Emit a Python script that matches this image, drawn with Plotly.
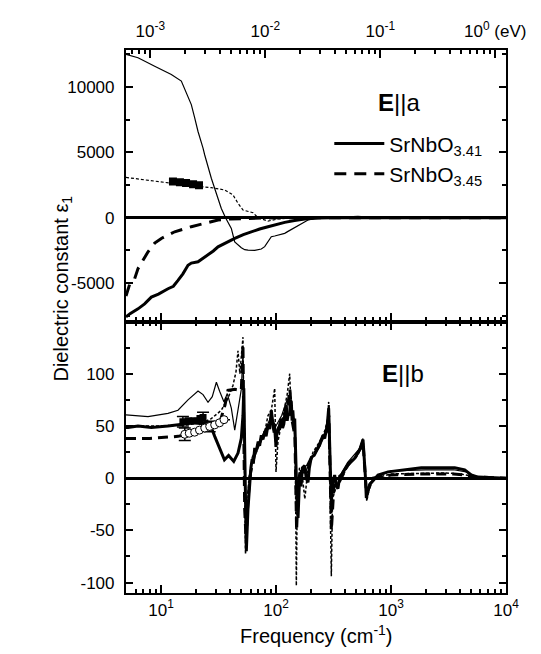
import numpy as np
import plotly.graph_objects as go

# ---------------- data: E||a (top panel) ----------------
freq_a_thin = [4.96, 6.31, 8.81, 10.77, 12.29, 15.02, 17.17, 18.34, 19.63, 20.98,
               23.19, 23.99, 27.38, 31.31, 33.45, 36.4, 40.86, 43.75, 49.93, 53.43,
               57.08, 65.28, 74.5, 79.7, 85.2, 91.0, 97.4, 104.1, 119, 127.2,
               145.4, 155.4, 166, 189.8, 217, 231.8, 283, 346, 423, 516,
               631, 771, 1500, 10000]
eps_a_thin = [12500, 12250, 11600, 11230, 10970, 10460, 9300, 8660, 7640, 6600,
              5330, 4800, 3020, 1480, 700, 0, -820, -1850, -2300, -2450,
              -2490, -2500, -2400, -2220, -1820, -1460, -1400, -1350, -1200, -1050,
              -750, -570, -450, -180, -60, -20, 30, 80, 60, 100,
              40, 0, 0, 0]

freq_a_thick = [4.96, 5.38, 6.31, 7.2, 8.24, 9.5, 11.5, 12.8, 14.05, 15.5,
                17.17, 18.34, 20.98, 23.0, 25.63, 28.5, 31.31, 35.8, 43.75, 52,
                60.99, 72, 85.2, 100, 119, 145, 177.7, 231.8, 300, 10000]
eps_a_thick = [-7600, -7350, -6980, -6600, -6080, -5850, -5440, -5250, -4800, -4300,
               -3650, -3480, -3380, -3150, -2880, -2550, -2230, -1950, -1590, -1300,
               -1080, -870, -690, -520, -360, -220, -100, -20, 0, 0]

freq_a_dash = [4.96, 5.38, 5.9, 6.31, 7.71, 8.81, 10.06, 13.15, 18.34, 25.63,
               31.31, 40, 60, 100, 10000]
eps_a_dash = [-6000, -5000, -4670, -3900, -2615, -1950, -1590, -1080, -690, -360,
              -180, -100, -50, 0, 0]

freq_a_dot = [4.96, 8.24, 16.07, 27.38, 35.81, 42.28, 46.73, 51.64, 57.08, 63.1,
              69.75, 85.2, 104.1, 150, 10000]
eps_a_dot = [3080, 2820, 2510, 2300, 2120, 1740, 1100, 585, 460, 380,
             0, -260, -100, 0, 0]

freq_a_sq = [12.7, 14.6, 16.5, 19.0, 21.4]
eps_a_sq = [2780, 2720, 2660, 2560, 2480]

# ---------------- data: E||b (bottom panel) ----------------
freq_b_thin = [4.96, 7.71, 11.5, 14.05, 17.17, 20.98, 23.19, 25.63, 27.9, 30.3,
               32.4, 35.3, 37.7, 40.86, 43.75, 46.73, 49.9, 51.6, 53.4, 55.2,
               58, 62, 70, 80, 90, 100, 112, 125, 135, 145,
               150, 160, 180, 200, 240, 275, 290, 300, 320, 350,
               420, 530, 570, 605, 650, 720, 1000, 2000, 3500, 4500,
               5500, 10000]
eps_b_thin = [60.5, 59, 62, 65, 75, 83.5, 80, 72.6, 78, 91.8,
              83, 73, 81, 67, 46, 65, 85, 120, 10, -55,
              -10, 20, 32, 46, 58, 50, 60, 75, 65, 55,
              -5, 5, 5, 18, 30, 45, 70, -10, 0, 0,
              15, 28, 38, -15, -5, 0, 7, 8, 8, 6,
              1, 0]

freq_b_thick = [4.96, 5.16, 6.31, 8.24, 11.5, 16.07, 19.63, 23.99, 27.38, 29.31,
                31.31, 33.45, 35.6, 38.7, 42.9, 46.73, 49.9, 51.6, 52.5, 53.4,
                54.3, 55.2, 57, 59.1, 60.5, 62, 63.5, 65.3, 67, 70,
                72, 74.5, 77, 80, 82, 85.2, 88, 91, 94, 97.4,
                100, 102, 104.1, 108, 111.2, 114, 117, 120, 122.9, 125,
                128, 131.5, 133, 135.9, 138, 140, 143, 145.4, 147.5, 150.2,
                152, 155.4, 158, 160.7, 165, 170, 177.7, 183, 189.8, 195,
                202.9, 215, 231.8, 245, 256.3, 265, 273.6, 280, 287, 292,
                299, 302.7, 310, 323.6, 335, 346, 358, 370, 423, 483,
                534, 571, 597.6, 610, 653, 721, 771, 942, 1315, 1834,
                2563, 3581, 4375, 4991, 5715, 7000, 10000]
eps_b_thick = [48.5, 48.5, 50, 48.5, 50, 51.5, 53, 51.5, 48.5, 40,
               32, 24, 17.5, 21.7, 16, 24, 38, 60, 86, 30,
               -20, -70, -30, 0, 10, 18, 14, 29, 25, 35,
               31, 41, 37, 45, 40, 51, 47, 65, 52, 48,
               30, 45, 43, 52, 57, 48, 52, 62, 70, 55,
               62, 60, 75, 73, 55, 65, 50, 57, 20, 0,
               -20, -38, -5, 3, -8, 10, 12, 0, -4, 10,
               20, 22, 29, 35, 41, 38, 48, 52, 67, 40,
               0, -25, -5, 3, -8, -10, 2, 3, 13, 19,
               27, 37, 3, -19, -6, 0, 3, 6, 8, 10,
               10, 10, 8, 3, 1, 0.5, 0]

freq_b_dash = [4.96, 8, 14.05, 19.63, 25, 29.3, 33, 36, 38.2, 44,
               49.9, 51.6, 52.5, 53.4, 55, 57, 60, 66, 75, 85,
               92, 98, 105, 115, 125, 132, 138, 146, 151, 156,
               165, 180, 200, 240, 275, 288, 298, 303, 320, 350,
               420, 520, 572, 600, 612, 700, 1000, 2000, 3500, 4500,
               5500, 10000]
eps_b_dash = [38, 38, 40, 44, 48, 50, 56, 70, 84, 85,
              84, 128, 40, -30, -60, -20, 5, 25, 38, 48,
              55, 40, 48, 55, 65, 85, 55, 40, -50, -10,
              5, 8, 18, 32, 45, 60, -5, -50, -5, -5,
              12, 25, 33, 0, -15, 0, 3, 4, 4, 3,
              1, 0]

freq_b_dot = [4.96, 10, 17.17, 23.99, 27.38, 33.45, 38.24, 42.3, 44.9, 46.7,
              48.5, 50.5, 51.6, 52.5, 53.4, 54.3, 56, 58, 62, 70,
              80, 85.2, 91, 95, 97.4, 100, 104, 115, 125, 131.5,
              136, 145, 148, 150.2, 153, 160, 170, 178, 190, 210,
              240, 265, 280, 287, 295, 302.7, 310, 330, 370, 430,
              500, 560, 575, 600, 615, 660, 720, 1000, 2000, 3000,
              4000, 5000, 6000, 10000]
eps_b_dot = [50, 50, 51, 54, 57, 65, 76.5, 89, 102, 122,
             100, 120, 135, 60, -20, -73, -40, 0, 15, 30,
             45, 60, 65, 78, 86, 6, 35, 60, 80, 100,
             60, 45, -10, -103, -20, 10, 0, -20, 10, 25,
             35, 45, 55, 73, 0, -94, -20, -10, 0, 13,
             20, 30, 35, 0, -22, -6, 0, 4, 5, 5,
             4, 2, 0.5, 0]

freq_b_sq = [15.5, 17.2, 19.4, 21.8, 23.2]
eps_b_sq = [54, 55, 55, 57, 58]
err_b_sq = [5, 0, 0, 0, 5]

freq_b_circ = [16.1, 17.6, 19.6, 21.6, 24.0, 26.5, 29.3, 32.3, 35.3]
eps_b_circ = [42, 43, 44, 46, 48, 49.5, 51, 53, 56]
err_b_circ = [6, 0, 0, 0, 0, 5, 0, 0, 0]

x_tickvals = [10, 100, 1000, 10000]
x_ticktext = ["10<sup>1</sup>", "10<sup>2</sup>", "10<sup>3</sup>", "10<sup>4</sup>"]
ev_tickvals = [0.001, 0.01, 0.1, 1]
ev_ticktext = ["10<sup>-3</sup>", "10<sup>-2</sup>", "10<sup>-1</sup>", "10<sup>0</sup> (eV)"]
ya_tickvals = [-5000, 0, 5000, 10000]
ya_ticktext = ["-5000", "0", "5000", "10000"]
yb_tickvals = [-100, -50, 0, 50, 100]
yb_ticktext = ["-100", "-50", "0", "50", "100"]

# ---------------- figure ----------------
FONT = "Liberation Sans, Arial, Helvetica, sans-serif"
fig = go.Figure()

def line(x, y, xa, ya, width, dash="solid", name=None, legend=False):
    fig.add_trace(go.Scatter(x=x, y=y, xaxis=xa, yaxis=ya, mode="lines",
                             line=dict(color="black", width=width, dash=dash),
                             name=name, showlegend=legend, hoverinfo="skip"))

# top panel
line(freq_a_thin, eps_a_thin, "x2", "y2", 1.2)
line(freq_a_dot, eps_a_dot, "x2", "y2", 1.2, dash="3px,2px")
line(freq_a_thick, eps_a_thick, "x2", "y2", 3, name="SrNbO<sub>3.41</sub>", legend=True)
line(freq_a_dash, eps_a_dash, "x2", "y2", 3, dash="12px,8px", name="SrNbO<sub>3.45</sub>", legend=True)
fig.add_trace(go.Scatter(x=freq_a_sq, y=eps_a_sq, xaxis="x2", yaxis="y2", mode="markers",
                         marker=dict(symbol="square", size=8, color="black"),
                         showlegend=False, hoverinfo="skip"))

# bottom panel
line(freq_b_thin, eps_b_thin, "x", "y", 1.2)
line(freq_b_dot, eps_b_dot, "x", "y", 1.5, dash="3px,2px")
line(freq_b_dash, eps_b_dash, "x", "y", 3, dash="10px,6px")
line(freq_b_thick, eps_b_thick, "x", "y", 3)
fig.add_trace(go.Scatter(x=freq_b_sq, y=eps_b_sq, xaxis="x", yaxis="y", mode="markers",
                         marker=dict(symbol="square", size=7, color="black"),
                         error_y=dict(type="data", array=err_b_sq, color="black", width=6, thickness=1.5),
                         showlegend=False, hoverinfo="skip"))
fig.add_trace(go.Scatter(x=freq_b_circ, y=eps_b_circ, xaxis="x", yaxis="y", mode="markers",
                         marker=dict(symbol="circle", size=8, color="white",
                                     line=dict(color="black", width=1)),
                         error_y=dict(type="data", array=err_b_circ, color="black", width=6, thickness=1.5),
                         showlegend=False, hoverinfo="skip"))

# invisible trace to realise the eV axis
fig.add_trace(go.Scatter(x=[0.01], y=[0], xaxis="x3", yaxis="y2", mode="markers",
                         marker=dict(opacity=0), showlegend=False, hoverinfo="skip"))

xr = [np.log10(4.96), 4.0]
ev_shift = np.log10(1.23984e-4)
minor_cm = [v * d for d in (1, 10, 100, 1000) for v in range(2, 10)]
minor_ev = [v * d for d in (1e-4, 1e-3, 1e-2, 1e-1, 1) for v in range(2, 10)]

axis_common = dict(showgrid=False, showline=True, linecolor="black", linewidth=2.2,
                   ticks="inside", tickcolor="black", tickwidth=1.6,
                   tickfont=dict(family=FONT, size=17, color="black"))
minor_common = dict(ticks="inside", ticklen=4, tickcolor="black", tickwidth=1.6)

fig.update_layout(
    width=541, height=654,
    margin=dict(l=118, r=43, t=42, b=69),
    paper_bgcolor="white", plot_bgcolor="white",
    font=dict(family=FONT, color="black"),
    xaxis=dict(type="log", range=xr, anchor="y", domain=[0, 1], mirror="ticks",
               tickvals=x_tickvals, ticktext=x_ticktext, ticklen=8,
               minor=dict(tickvals=minor_cm, **minor_common), **axis_common),
    xaxis2=dict(type="log", range=xr, anchor="y2", domain=[0, 1], matches="x",
                showticklabels=False, tickvals=x_tickvals, ticklen=8,
                minor=dict(tickvals=minor_cm, **minor_common), **axis_common),
    xaxis3=dict(type="log", range=[xr[0] + ev_shift, xr[1] + ev_shift], anchor="y2",
                overlaying="x2", side="top", tickvals=ev_tickvals, ticktext=ev_ticktext,
                ticklen=8, ticklabelstandoff=4,
                minor=dict(tickvals=minor_ev, **minor_common), **axis_common),
    yaxis=dict(domain=[0, 0.5], range=[-110, 150], anchor="x", mirror="ticks",
               tickvals=yb_tickvals, ticktext=yb_ticktext, ticklen=7,
               zeroline=True, zerolinecolor="black", zerolinewidth=2.5,
               minor=dict(tickvals=[-75, -25, 25, 75, 125], **minor_common),
               ticklabelstandoff=6, **axis_common),
    yaxis2=dict(domain=[0.5, 1], range=[-7950, 12840], anchor="x2", mirror="ticks",
                tickvals=ya_tickvals, ticktext=ya_ticktext, ticklen=7,
                zeroline=True, zerolinecolor="black", zerolinewidth=2.5,
                minor=dict(tickvals=[-7500, -2500, 2500, 7500, 12500], **minor_common),
                ticklabelstandoff=6, **axis_common),
    legend=dict(x=0.535, y=0.865, xanchor="left", yanchor="top", bgcolor="rgba(0,0,0,0)",
                font=dict(family=FONT, size=21, color="black"), itemwidth=50,
                tracegroupgap=0),
    showlegend=True,
)

fig.add_annotation(text="<b>E</b>||a", xref="paper", yref="paper", x=0.78, y=0.931,
                   showarrow=False, font=dict(family=FONT, size=24, color="black"))
fig.add_annotation(text="<b>E</b>||b", xref="paper", yref="paper", x=0.79, y=0.404,
                   showarrow=False, font=dict(family=FONT, size=24, color="black"))
fig.add_annotation(text="Dielectric constant ε<sub>1</sub>", xref="paper", yref="paper",
                   x=-0.205, y=0.56, textangle=-90, showarrow=False,
                   font=dict(family=FONT, size=20, color="black"))
fig.add_annotation(text="Frequency (cm<sup>-1</sup>)", xref="paper", yref="paper",
                   x=0.5, y=-0.076, yanchor="middle", showarrow=False,
                   font=dict(family=FONT, size=20, color="black"))

fig.write_html("out.html")
